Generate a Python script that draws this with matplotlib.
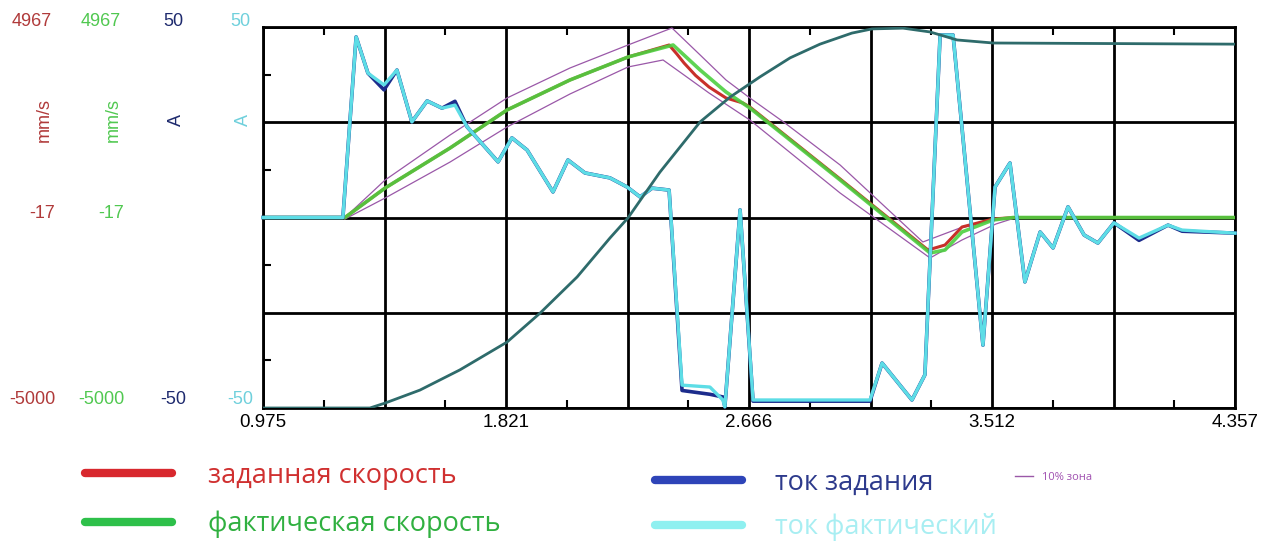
import matplotlib
matplotlib.use("Agg")
import matplotlib.pyplot as plt
from matplotlib.lines import Line2D
import numpy as np

# time axis, s
t_min, t_max = 0.975, 4.357

# speed setpoint / actual, mm/s
t_set = [0.975, 1.260, 1.400, 1.626, 1.824, 2.043, 2.245, 2.388, 2.415, 2.440,
         2.480, 2.527, 2.586, 2.645, 2.669, 2.983, 3.289, 3.348, 3.407, 3.515,
         3.585, 4.357]
v_set = [-17, -17, 755, 1802, 2796, 3581, 4182, 4496, 4260, 4025,
         3700, 3397, 3110, 2979, 2874, 991, -867, -736, -265, -56,
         -17, -17]

t_act = [0.975, 1.260, 1.400, 1.626, 1.824, 2.043, 2.245, 2.402, 2.496, 2.586,
         2.669, 2.983, 3.296, 3.348, 3.407, 3.515, 3.585, 4.357]
v_act = [-17, -17, 755, 1802, 2796, 3581, 4182, 4496, 3842, 3267,
         2848, 965, -945, -867, -396, -82, -17, -17]

# 10% zone around setpoint
t_up = [1.260, 1.400, 1.626, 1.824, 2.043, 2.245, 2.398, 2.496, 2.586, 2.669,
        2.791, 2.983, 3.271, 3.400, 3.525, 3.585]
v_up = [-17, 965, 2142, 3110, 3894, 4496, 4941, 4235, 3581, 3110,
        2456, 1357, -657, -291, -82, -17]
t_lo = [1.260, 1.400, 1.626, 1.824, 2.043, 2.245, 2.367, 2.440, 2.527, 2.669,
        2.983, 3.296, 3.407, 3.525, 3.585]
v_lo = [-56, 494, 1435, 2351, 3214, 3921, 4104, 3711, 3240, 2534,
        624, -1076, -605, -187, -43]

# current setpoint / actual, A
t_cur = [0.975, 1.253, 1.299, 1.340, 1.396, 1.441, 1.493, 1.546, 1.598, 1.643,
         1.685, 1.793, 1.841, 1.894, 1.984, 2.036, 2.095, 2.182, 2.242, 2.287,
         2.329, 2.388, 2.433, 2.530, 2.575, 2.582, 2.635, 2.680, 3.087, 3.129,
         3.233, 3.278, 3.331, 3.376, 3.480, 3.522, 3.574, 3.626, 3.679, 3.724,
         3.776, 3.832, 3.880, 3.936, 4.023, 4.124, 4.173, 4.357]
i_act = [0, 0, 47.4, 37.9, 34.8, 38.7, 25.1, 30.6, 28.7, 29.5,
         23.8, 14.6, 20.9, 17.7, 6.7, 15.1, 11.7, 10.4, 8.0, 5.4,
         7.7, 7.2, -44.0, -44.5, -47.9, -49.7, 2.0, -47.9, -47.9, -38.2,
         -47.9, -41.3, 47.9, 47.9, -33.5, 8.0, 14.3, -16.9, -3.8, -8.0,
         2.8, -4.6, -6.7, -1.4, -5.4, -2.0, -3.3, -4.1]
i_set = [0, 0, 47.4, 37.9, 33.5, 38.7, 25.1, 30.6, 28.7, 30.5,
         23.8, 14.6, 20.9, 17.7, 6.7, 15.1, 11.7, 10.4, 8.0, 5.4,
         7.7, 7.2, -45.4, -46.4, -47.1, -49.7, 2.0, -48.2, -48.2, -38.2,
         -47.9, -41.3, 47.9, 47.9, -33.5, 8.0, 14.3, -16.9, -3.8, -8.0,
         2.8, -4.6, -6.7, -1.4, -6.0, -2.0, -3.6, -4.1]

# position, % of travel
t_pos = [0.975, 1.347, 1.400, 1.521, 1.660, 1.824, 1.939, 2.068, 2.182, 2.245,
         2.356, 2.426, 2.496, 2.600, 2.704, 2.809, 2.913, 3.024, 3.094, 3.202,
         3.296, 3.390, 3.515, 4.357]
p_pos = [0, 0, 1.3, 4.7, 10.0, 17.3, 24.9, 34.4, 44.6, 49.9,
         61.9, 68.5, 75.1, 81.6, 86.9, 91.9, 95.5, 98.4, 99.5, 99.7,
         98.7, 96.6, 95.8, 95.5]

x_labels = ["0.975", "1.821", "2.666", "3.512", "4.357"]

c_red = "#c8302a"
c_green = "#4cd040"
c_blue = "#1c2c8c"
c_cyan = "#5ddde6"
c_pos = "#2e6b6b"
c_zone = "#9a58a8"

fig = plt.figure(figsize=(12.75, 5.44), dpi=100)
ax = fig.add_axes([263 / 1275, 1 - 408 / 544, 972 / 1275, 381 / 544])

ax.set_xlim(t_min, t_max)
ax.set_ylim(-50, 50)
xt = np.linspace(t_min, t_max, 9)
ax.set_xticks(xt)
ax.set_xticklabels([x_labels[i // 2] if i % 2 == 0 else "" for i in range(9)],
                   fontsize=13.5, family="Liberation Sans")
ax.set_xticks((xt[:-1] + xt[1:]) / 2, minor=True)
ax.set_yticks(np.linspace(-50, 50, 5))
ax.set_yticks([-37.5, -12.5, 12.5, 37.5], minor=True)
ax.set_yticklabels([])
ax.tick_params(which="major", length=0, pad=4)
ax.tick_params(which="minor", direction="in", length=6, width=1.5,
               top=True, right=True, bottom=True, left=True)
ax.grid(True, which="major", color="black", lw=2)
for s in ax.spines.values():
    s.set_linewidth(2)

ax_v = ax.twinx()
ax_v.set_ylim(-5000, 4967)
ax_v.axis("off")
ax_i = ax.twinx()
ax_i.set_ylim(-50, 50)
ax_i.axis("off")
ax_p = ax.twinx()
ax_p.set_ylim(0, 100)
ax_p.axis("off")
for a in (ax_v, ax_i, ax_p):
    a.set_xlim(t_min, t_max)

ax_v.plot(t_up, v_up, color=c_zone, lw=0.9)
ax_v.plot(t_lo, v_lo, color=c_zone, lw=0.9)
ax_i.plot(t_cur, i_set, color=c_blue, lw=2.6, clip_on=False)
ax_i.plot(t_cur, i_act, color=c_cyan, lw=2.4, clip_on=False)
ax_v.plot(t_set, v_set, color=c_red, lw=2.2)
ax_v.plot(t_act, v_act, color=c_green, lw=2.6, alpha=0.9)
ax_p.plot(t_pos, p_pos, color=c_pos, lw=2)

# axis scale labels on the left
lab = dict(fontsize=13, family="Liberation Sans", ha="center", va="center")
cols = [(32, "#b03a3a", "4967", "-17", "-5000", "mm/s"),
        (101, "#50c850", "4967", "-17", "-5000", "mm/s"),
        (173, "#1e2a6e", "50", None, "-50", "A"),
        (240, "#6fd0dc", "50", None, "-50", "A")]
for x, c, top, mid, bot, unit in cols:
    fig.text(x / 1275, 1 - 22 / 544, top, color=c, **lab)
    fig.text(x / 1275, 1 - 400 / 544, bot, color=c, **lab)
    if mid:
        fig.text((x + 10) / 1275, 1 - 213 / 544, mid, color=c, **lab)
    fig.text((x + 12 if unit == "mm/s" else x + 3) / 1275, 1 - 120 / 544, unit,
             color=c, rotation=90, **lab)

# legend
leg_font = {"family": "Open Sans", "size": 19.5}
small_font = {"family": "Open Sans", "size": 8}
h1 = [Line2D([], [], color="#d8282e", lw=6, solid_capstyle="round"),
      Line2D([], [], color="#2ec04a", lw=6, solid_capstyle="round")]
leg1 = fig.legend(h1, ["заданная скорость", "фактическая скорость"],
                  loc="center left", bbox_to_anchor=(85 / 1275, 1 - 500 / 544),
                  frameon=False, prop=leg_font, handlelength=93 / 29,
                  handletextpad=1.33, labelspacing=0.75, borderpad=0, borderaxespad=0)
for txt, c in zip(leg1.get_texts(), ["#d03030", "#30b040"]):
    txt.set_color(c)

h2 = [Line2D([], [], color="#2e44b8", lw=6, solid_capstyle="round"),
      Line2D([], [], color="#8ef0f0", lw=6, solid_capstyle="round")]
leg2 = fig.legend(h2, ["ток задания", "ток фактический"],
                  loc="center left", bbox_to_anchor=(655 / 1275, 1 - 505 / 544),
                  frameon=False, prop=leg_font, handlelength=93 / 29,
                  handletextpad=1.22, labelspacing=0.62, borderpad=0, borderaxespad=0)
for txt, c in zip(leg2.get_texts(), ["#2d3a8c", "#a8eef2"]):
    txt.set_color(c)

h3 = [Line2D([], [], color=c_zone, lw=1)]
leg3 = fig.legend(h3, ["10% зона"], loc="center left",
                  bbox_to_anchor=(1015 / 1275, 1 - 477 / 544), frameon=False,
                  prop=small_font, handlelength=1.6,
                  handletextpad=0.8, borderpad=0, borderaxespad=0)
leg3.get_texts()[0].set_color("#a050b0")

plt.savefig("out.png", dpi=100)
plt.close()
